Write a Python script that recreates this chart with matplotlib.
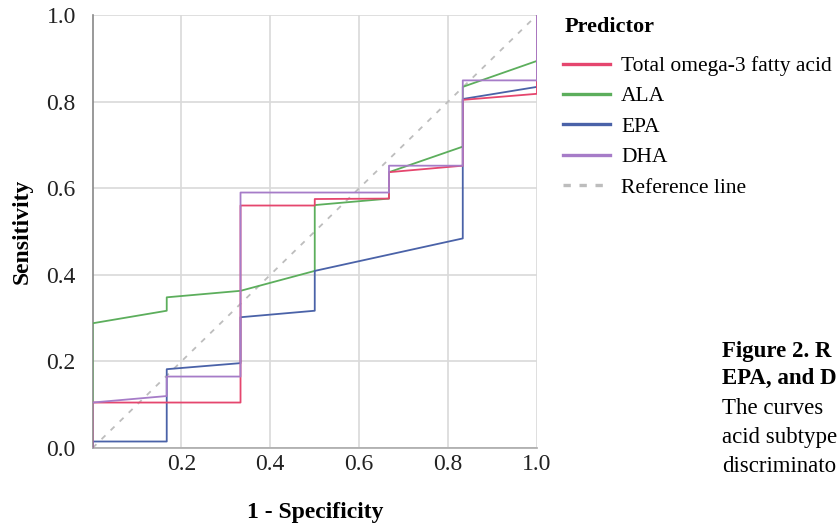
import matplotlib
matplotlib.use("Agg")
import matplotlib.pyplot as plt
from matplotlib.lines import Line2D

plt.rcParams['font.family'] = ['Liberation Serif', 'DejaVu Serif']

# Data (1 - specificity, sensitivity)
total_x = [0, 0, 0.333, 0.333, 0.5, 0.5, 0.667, 0.667, 0.833, 0.833, 1.0, 1.0]
total_y = [0, 0.105, 0.105, 0.560, 0.560, 0.575, 0.576, 0.637, 0.652, 0.804, 0.818, 1.0]

ala_x = [0, 0, 0.167, 0.167, 0.333, 0.5, 0.5, 0.667, 0.667, 0.833, 0.833, 1.0, 1.0]
ala_y = [0, 0.288, 0.317, 0.348, 0.363, 0.409, 0.561, 0.576, 0.637, 0.696, 0.834, 0.894, 1.0]

epa_x = [0, 0, 0.167, 0.167, 0.333, 0.333, 0.5, 0.5, 0.833, 0.833, 1.0, 1.0]
epa_y = [0, 0.015, 0.015, 0.182, 0.196, 0.302, 0.317, 0.409, 0.484, 0.806, 0.834, 1.0]

dha_x = [0, 0, 0.167, 0.167, 0.333, 0.333, 0.667, 0.667, 0.833, 0.833, 1.0, 1.0]
dha_y = [0, 0.105, 0.120, 0.165, 0.165, 0.590, 0.590, 0.652, 0.652, 0.849, 0.849, 1.0]

ref_x = [0, 1]
ref_y = [0, 1]

labels = ["Total omega-3 fatty acid", "ALA", "EPA", "DHA", "Reference line"]
colors = ["#e5466e", "#5cae5c", "#4a62a8", "#a67cc8", "#bdbdbd"]

fig = plt.figure(figsize=(8.38, 5.23), dpi=100)
ax = fig.add_axes([92.5/838, 1 - 448/523, (537 - 92.5)/838, (448 - 15)/523])

ax.plot(ref_x, ref_y, color=colors[4], lw=1.3, dashes=(3, 4), zorder=2)
ax.plot(ala_x, ala_y, color=colors[1], lw=1.3, zorder=3)
ax.plot(epa_x, epa_y, color=colors[2], lw=1.3, zorder=3)
ax.plot(total_x, total_y, color=colors[0], lw=1.3, zorder=4)
ax.plot(dha_x, dha_y, color=colors[3], lw=1.3, zorder=5)

ax.set_xlim(0, 1)
ax.set_ylim(0, 1)
ax.set_xticks([0.2, 0.4, 0.6, 0.8, 1.0])
ax.set_xticklabels(["0.2", "0.4", "0.6", "0.8", "1.0"])
ax.set_yticks([0.0, 0.2, 0.4, 0.6, 0.8, 1.0])
ax.set_yticklabels(["0.0", "0.2", "0.4", "0.6", "0.8", "1.0"])
ax.tick_params(axis="x", length=0, labelsize=17, colors="#222222", pad=4)
ax.tick_params(axis="y", length=0, labelsize=17, colors="#222222", pad=12)
ax.grid(True, color="#d9d9d9", lw=1.2)
ax.set_axisbelow(True)
for s in ["top", "right"]:
    ax.spines[s].set_visible(False)
ax.spines["left"].set_color("#888888")
ax.spines["bottom"].set_color("#aaaaaa")
ax.spines["left"].set_linewidth(1.2)
ax.spines["bottom"].set_linewidth(1.2)

ax.set_xlabel("1 - Specificity", fontsize=17, fontweight="bold", labelpad=20)
ax.set_ylabel("Sensitivity", fontsize=17, fontweight="bold", labelpad=10)

fig.text(565/838, 1 - 27/523, "Predictor", fontsize=16, fontweight="bold", va="center", ha="left")
handles = [Line2D([], [], color=c, lw=2.4) for c in colors[:4]]
handles.append(Line2D([], [], color=colors[4], lw=2.4, dashes=(2.2, 2.6)))
leg = fig.legend(handles, labels, loc="upper left", bbox_to_anchor=(563/838, 1 - 56/523),
                 frameon=False, fontsize=15.5,
                 handlelength=2.2, handletextpad=0.5,
                 labelspacing=0.48, borderpad=0, borderaxespad=0)

fig.text(722/838, 1 - 351/523, "Figure 2. R", fontsize=16.5, fontweight="bold", va="center", ha="left")
fig.text(722/838, 1 - 378/523, "EPA, and D", fontsize=16.5, fontweight="bold", va="center", ha="left")
fig.text(722/838, 1 - 408/523, "The curves", fontsize=16.5, va="center", ha="left")
fig.text(722/838, 1 - 438/523, "acid subtype", fontsize=16.5, va="center", ha="left")
fig.text(722/838, 1 - 466/523, "discriminato", fontsize=16.5, va="center", ha="left")

fig.savefig("out.png", dpi=100)
